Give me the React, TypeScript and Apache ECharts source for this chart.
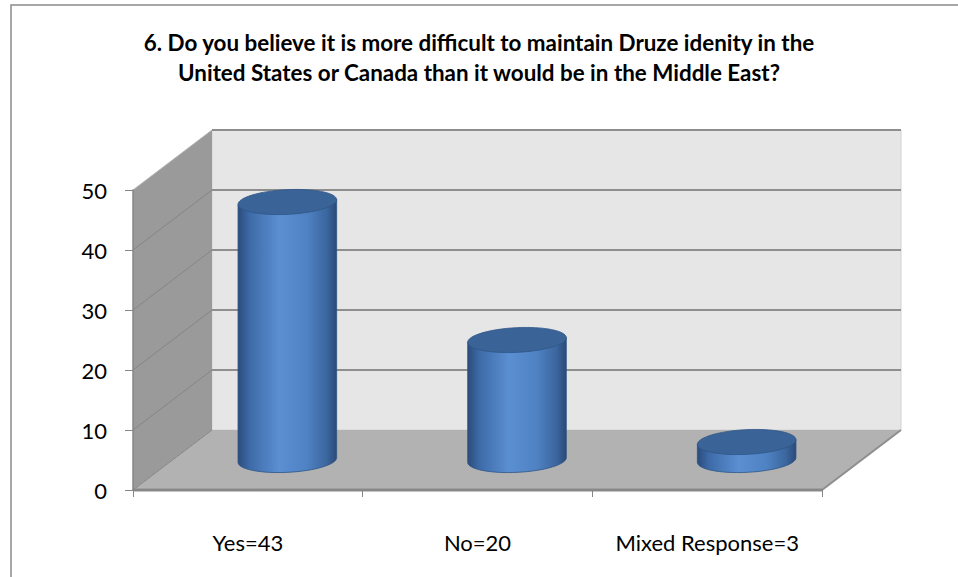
import React, { useEffect, useRef } from "react";
import * as echarts from "echarts";

const categories = ["Yes=43", "No=20", "Mixed Response=3"];
const values = [43, 20, 3];
const yTicks = [0, 10, 20, 30, 40, 50];
const titleLines = [
  "6. Do you believe it is more difficult to maintain Druze idenity in the",
  "United States or Canada than it would be in the Middle East?",
];

const DX = 79;
const DY = -60;
const TILT = -0.05;
const FONT = "Lato, 'Open Sans', sans-serif";

function makeRot(cx: number, cy: number) {
  const c = Math.cos(TILT);
  const s = Math.sin(TILT);
  return (dx: number, dy: number) => {
    const x = cx + dx * c - dy * s;
    const y = cy + dx * s + dy * c;
    return `${x.toFixed(2)},${y.toFixed(2)}`;
  };
}

function ellipsePath(cx: number, cy: number, rx: number, ry: number) {
  const k = 0.5523;
  const r = makeRot(cx, cy);
  return (
    `M${r(-rx, 0)} ` +
    `C${r(-rx, -k * ry)} ${r(-k * rx, -ry)} ${r(0, -ry)} ` +
    `C${r(k * rx, -ry)} ${r(rx, -k * ry)} ${r(rx, 0)} ` +
    `C${r(rx, k * ry)} ${r(k * rx, ry)} ${r(0, ry)} ` +
    `C${r(-k * rx, ry)} ${r(-rx, k * ry)} ${r(-rx, 0)} Z`
  );
}

function bodyPath(cx: number, ty: number, by: number, rx: number, ry: number) {
  const k = 0.5523;
  const t = makeRot(cx, ty);
  const b = makeRot(cx, by);
  return (
    `M${t(-rx, 0)} L${b(-rx, 0)} ` +
    `C${b(-rx, k * ry)} ${b(-k * rx, ry)} ${b(0, ry)} ` +
    `C${b(k * rx, ry)} ${b(rx, k * ry)} ${b(rx, 0)} ` +
    `L${t(rx, 0)} Z`
  );
}

export default function App() {
  const ref = useRef<HTMLDivElement>(null);

  useEffect(() => {
    if (!ref.current) return;
    const chart = echarts.init(ref.current, undefined, { renderer: "svg" });
    const yMax = yTicks[yTicks.length - 1];

    const wallsRender = (params: any, api: any) => {
      const band = api.size([1, 0])[0];
      const p0 = api.coord([0, 0]);
      const x0 = p0[0] - band / 2;
      const y0 = p0[1];
      const x1 = x0 + band * categories.length;
      const yTop = api.coord([0, yMax])[1];
      const children: any[] = [];
      children.push({
        type: "rect",
        shape: { x: x0 + DX, y: yTop + DY, width: x1 - x0, height: y0 - yTop },
        style: { fill: "#e6e6e6", stroke: "#d2d2d2", lineWidth: 1 },
      });
      children.push({
        type: "polygon",
        shape: { points: [[x0, y0], [x0 + DX, y0 + DY], [x0 + DX, yTop + DY], [x0, yTop]] },
        style: { fill: "#9a9a9a" },
      });
      children.push({
        type: "polygon",
        shape: { points: [[x0, y0], [x1, y0], [x1 + DX, y0 + DY], [x0 + DX, y0 + DY]] },
        style: { fill: "#b2b2b2" },
      });
      yTicks.forEach((t) => {
        const y = api.coord([0, t])[1];
        if (t > 0) {
          children.push({
            type: "line",
            shape: { x1: x0 + DX, y1: y + DY, x2: x1 + DX, y2: y + DY },
            style: { stroke: "#8e8e8e", lineWidth: 2 },
          });
        }
        children.push({
          type: "line",
          shape: { x1: x0, y1: y, x2: x0 + DX, y2: y + DY },
          style: { stroke: t === yMax ? "#b4b4b4" : "#858585", lineWidth: 1 },
        });
      });
      children.push({
        type: "line",
        shape: { x1: x1, y1: y0, x2: x1 + DX, y2: y0 + DY },
        style: { stroke: "#8e8e8e", lineWidth: 2 },
      });
      children.push({
        type: "line",
        shape: { x1: x0, y1: y0, x2: x1, y2: y0 },
        style: { stroke: "#8c8c8c", lineWidth: 3 },
      });
      return { type: "group", children };
    };

    const cylRender = (params: any, api: any) => {
      const band = api.size([1, 0])[0];
      const rx = band * 0.215;
      const ry = rx * 0.25;
      const base = api.coord([api.value(0), 0]);
      const top = api.coord([api.value(0), api.value(1)]);
      const cx = base[0] + DX / 2;
      const by = base[1] + DY / 2;
      const ty = top[1] + DY / 2;
      const grad = new echarts.graphic.LinearGradient(0, 0, 1, 0, [
        { offset: 0, color: "#2b4c7c" },
        { offset: 0.12, color: "#3e6ba8" },
        { offset: 0.42, color: "#5a8fd2" },
        { offset: 0.7, color: "#4f82c3" },
        { offset: 0.9, color: "#3b669e" },
        { offset: 1, color: "#2a4a78" },
      ]);
      return {
        type: "group",
        children: [
          {
            type: "path",
            shape: { pathData: bodyPath(cx, ty, by, rx, ry) },
            style: { fill: grad, stroke: "#2f5586", lineWidth: 0.8 },
          },
          {
            type: "path",
            shape: { pathData: ellipsePath(cx, ty, rx, ry) },
            style: { fill: "#3a6398", stroke: "#2f5586", lineWidth: 0.8 },
          },
        ],
      };
    };

    chart.setOption({
      animation: false,
      title: {
        text: titleLines.join("\n"),
        left: "center",
        top: 22,
        textStyle: {
          fontFamily: FONT,
          fontSize: 22.4,
          fontWeight: "bold",
          color: "#000",
          lineHeight: 30,
        },
      },
      graphic: [
        {
          type: "rect",
          shape: { x: 11, y: 5, width: 1000, height: 640 },
          style: { fill: "none", stroke: "#8a8a8a", lineWidth: 1.5 },
          z: -10,
          silent: true,
        },
      ],
      grid: { left: 133, right: 136, top: 190, bottom: 87 },
      xAxis: {
        type: "category",
        data: categories,
        z: 5,
        axisLine: { show: true, lineStyle: { color: "#868686", width: 1.5 } },
        axisTick: { show: true, length: 7, lineStyle: { color: "#868686" } },
        axisLabel: { interval: 0, fontFamily: FONT, fontSize: 22, color: "#000", margin: 41 },
      },
      yAxis: {
        type: "value",
        min: 0,
        max: yMax,
        interval: 10,
        z: 5,
        axisLine: { show: true, lineStyle: { color: "#868686", width: 1.5 } },
        axisTick: { show: true, length: 8, lineStyle: { color: "#868686" } },
        splitLine: { show: false },
        axisLabel: { fontFamily: FONT, fontSize: 22, color: "#000", margin: 26 },
      },
      series: [
        {
          type: "custom",
          z: 1,
          silent: true,
          renderItem: wallsRender,
          data: [[0, 0]],
        },
        {
          type: "custom",
          z: 3,
          renderItem: cylRender,
          data: values.map((v, i) => [i, v]),
        },
      ],
    });
    return () => chart.dispose();
  }, []);

  return (
    <div
      ref={ref}
      style={{ position: "fixed", left: 0, top: 0, width: 958, height: 577, background: "#fff" }}
    />
  );
}
